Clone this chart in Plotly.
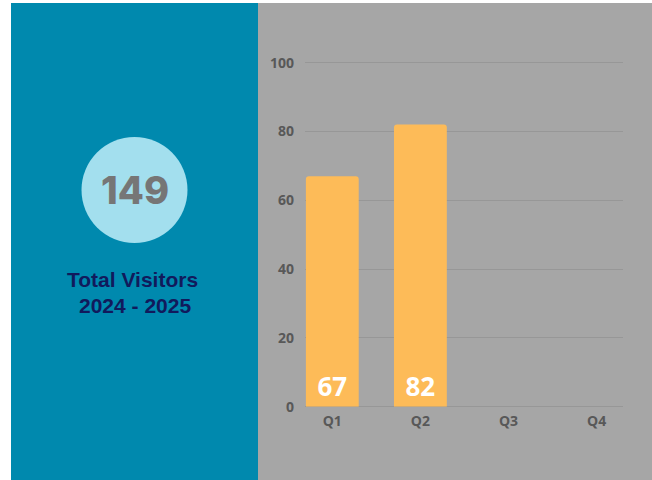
import plotly.graph_objects as go

# Data
quarters = ["Q1", "Q2", "Q3", "Q4"]
visitors = [67, 82, None, None]
bar_labels = ["67", "82", "", ""]
total_visitors = "149"
title_lines = ["Total Visitors", "2024 - 2025"]
y_ticks = [0, 20, 40, 60, 80, 100]

W, H = 652, 480

def px(x):
    return x / W

def py(y):
    return 1 - y / H

fig = go.Figure()
fig.add_trace(go.Bar(
    x=quarters, y=visitors,
    marker=dict(color="#fdbb58", cornerradius=3, line=dict(width=0)),
    width=0.6,
    text=bar_labels, textposition="inside", insidetextanchor="start",
    textfont=dict(family="Open Sans", size=26, color="white", weight=700),
    hoverinfo="skip",
))

shapes = [
    dict(type="rect", xref="paper", yref="paper", x0=px(11), x1=px(258), y0=py(480), y1=py(3),
         fillcolor="#0089ae", line=dict(width=0), layer="below"),
    dict(type="rect", xref="paper", yref="paper", x0=px(258), x1=px(652), y0=py(480), y1=py(3),
         fillcolor="#a6a6a6", line=dict(width=0), layer="below"),
    dict(type="circle", xref="paper", yref="paper", x0=px(134.5 - 53), x1=px(134.5 + 53),
         y0=py(190 + 53), y1=py(190 - 53), fillcolor="#a3dfee", line=dict(width=0), layer="below"),
]

annotations = [
    dict(text=total_visitors, xref="paper", yref="paper", x=px(134.5), y=py(190),
         showarrow=False, xanchor="center", yanchor="middle",
         font=dict(family="Inter", size=38, color="#767676", weight=800)),
    dict(text=title_lines[0], xref="paper", yref="paper",
         x=px(132), y=py(279), showarrow=False, xanchor="center", yanchor="middle",
         font=dict(family="Liberation Sans", size=21, color="#111a5c", weight=700)),
    dict(text=title_lines[1], xref="paper", yref="paper",
         x=px(135), y=py(305), showarrow=False, xanchor="center", yanchor="middle",
         font=dict(family="Liberation Sans", size=21, color="#111a5c", weight=700)),
]

fig.update_layout(
    width=W, height=H,
    margin=dict(l=0, r=0, t=0, b=0),
    paper_bgcolor="white",
    plot_bgcolor="rgba(0,0,0,0)",
    shapes=shapes,
    annotations=annotations,
    showlegend=False,
    xaxis=dict(
        domain=[px(305), px(623)],
        range=[-0.31, 3.30],
        automargin=False,
        showgrid=False, zeroline=False, showline=False,
        tickfont=dict(family="Open Sans", size=14, color="#585858", weight=700),
        ticks="", ticklabelstandoff=4,
        fixedrange=True,
    ),
    yaxis=dict(
        domain=[py(406.7), py(52)],
        range=[0, 103.1],
        tickvals=y_ticks,
        automargin=False,
        showgrid=True, gridcolor="#979797", gridwidth=1,
        zeroline=True, zerolinecolor="#979797", zerolinewidth=1,
        showline=False,
        tickfont=dict(family="Open Sans", size=14, color="#585858", weight=700),
        ticks="", ticklabelstandoff=10,
        fixedrange=True,
    ),
)

fig.write_html(
    "out.html",
    config={"displayModeBar": False},
    post_script="document.body.style.margin='0';document.body.style.overflow='hidden';",
)
